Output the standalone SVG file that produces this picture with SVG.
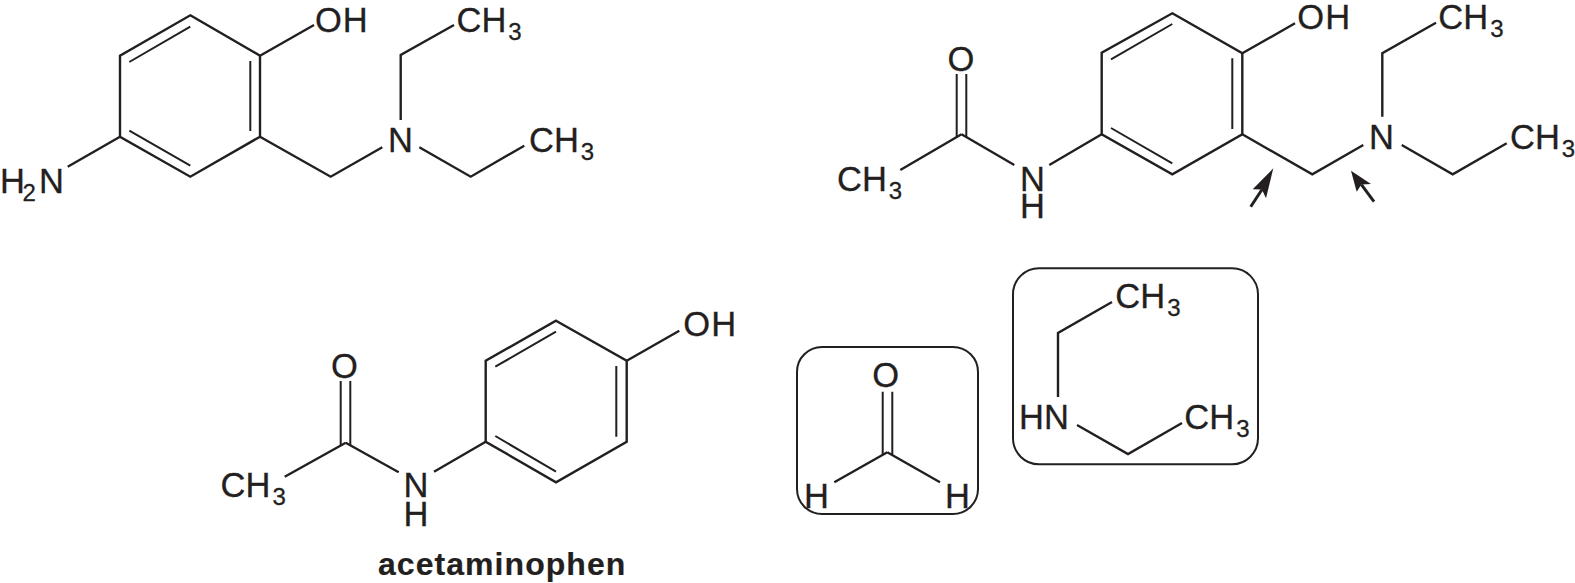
<svg xmlns="http://www.w3.org/2000/svg" width="1575" height="583" viewBox="0 0 1575 583">
<style>
text{font-family:"Liberation Sans",Arial,sans-serif;font-size:34.5px;fill:#231f20;stroke:#231f20;stroke-width:.3}
.s{font-size:24px}
.oh{letter-spacing:1px}
.b{font-weight:bold;font-size:32px;letter-spacing:1.05px;stroke-width:.2}
.bond{fill:none;stroke:#231f20;stroke-width:2.4;stroke-linecap:butt;stroke-linejoin:miter}
.thin{stroke-width:2}
.box{fill:none;stroke:#231f20;stroke-width:2}
.head{fill:#231f20;stroke:none}
.shaft{fill:none;stroke:#231f20;stroke-width:3}
</style>
<rect width="1575" height="583" fill="#fff"/>
<g id="connectors">
<path class="bond" d="M190.3 15.3L260 55.7V136.7L190.3 176.7L120 136.7V55.7Z"/>
<path class="bond thin" d="M190.3 26.7L129.3 62M250.3 61V131M129.3 130.7L190.3 165.7"/>
<path class="bond" d="M260 55.7L314 25M120 136.7L67.7 166.7M260 136.7L330.7 176.7L382.3 147.3M400.7 120V55L454 25M419.3 147.3L470.7 176.7L524.3 145.7"/>
<path class="bond" d="M1172.3 13.3L1242.3 53.3V134.3L1172.3 174.3L1101.7 134.3V52.7Z"/>
<path class="bond thin" d="M1172.3 24L1111 59.3M1232.3 58.3V129M1111 128L1172.3 163.3"/>
<path class="bond" d="M1242.3 53.3L1295 23.3M1101.7 134.3L1049.3 165M1242.3 134.3L1312.3 174.3L1363.3 145M1382.3 116.7V53.3L1436 22.7M1401.7 145L1452.7 174.3L1506.7 143.3M961.5 134.3L900.3 170M961.5 134.3L1014.3 165"/>
<path class="bond thin" d="M956.7 74V137M966.3 74V137"/>
<path class="shaft" d="M1250.7 206.7L1262 189.5"/>
<path class="head" d="M1273.3 168.3L1266 198.3L1261.9 189.5L1252.7 189.3Z"/>
<path class="shaft" d="M1374 201.7L1361.4 184.6"/>
<path class="head" d="M1351 170.7L1371 184L1361.4 184.6L1356.7 191.7Z"/>
<path class="bond" d="M556 320.7L626.7 360.7V441.7L556 482.3L485.7 441.7V360.7Z"/>
<path class="bond thin" d="M556 331.7L495.3 366.7M616.3 366V436.7M495.3 436L556 471.7"/>
<path class="bond" d="M626.7 360.7L679.3 330.7M485.7 441.7L434 471.7M345.7 442.7L284.7 476.7M345.7 442.7L398.7 472.3"/>
<path class="bond thin" d="M340.7 381V445M350.3 381V445"/>
<path class="bond thin" d="M882.7 391.7V455M892.3 391.7V455"/>
<path class="bond" d="M887.3 452.3L834.3 482.3M887.3 452.3L940 482.3"/>
<path class="bond" d="M1058 397V333L1112 302M1077 425L1128 454L1182 423"/>
</g>
<g id="mol1"><text class="oh" x="315" y="32.3">OH</text><text x="456.5" y="32.3">CH<tspan class="s" dx="2" dy="8">3</tspan></text><text x="529" y="152.3">CH<tspan class="s" dx="2" dy="8">3</tspan></text><text x="388" y="152.3">N</text><text x="0" y="192.7">H<tspan class="s" dx="-2.5" dy="8">2</tspan><tspan dx="3.3" dy="-8">N</tspan></text></g>
<g id="mol2"><text class="oh" x="1297.3" y="29.3">OH</text><text x="1438.3" y="29.3">CH<tspan class="s" dx="2" dy="8">3</tspan></text><text x="1510" y="149.3">CH<tspan class="s" dx="2" dy="8">3</tspan></text><text x="1369" y="149.3">N</text><text x="947.6" y="70.7">O</text><text x="837" y="190.7">CH<tspan class="s" dx="2" dy="8">3</tspan></text><text x="1020" y="190.7">N</text><text x="1020" y="218.3">H</text></g>
<g id="mol3"><text class="oh" x="683.3" y="336">OH</text><text x="331" y="377.7">O</text><text x="220.6" y="497.3">CH<tspan class="s" dx="2" dy="8">3</tspan></text><text x="403.4" y="497.3">N</text><text x="403.4" y="526">H</text><text class="b" x="378" y="574.5">acetaminophen</text></g>
<g id="formaldehyde"><rect class="box" x="797" y="347" width="181" height="167" rx="25"/><text x="872.3" y="387">O</text><text x="804" y="508.3">H</text><text x="945" y="508.3">H</text></g>
<g id="diethylamine"><rect class="box" x="1013" y="268.3" width="245" height="196" rx="26"/><text x="1115.3" y="308">CH<tspan class="s" dx="2" dy="8">3</tspan></text><text x="1019" y="429">HN</text><text x="1184.3" y="429">CH<tspan class="s" dx="2" dy="8">3</tspan></text></g>
</svg>
